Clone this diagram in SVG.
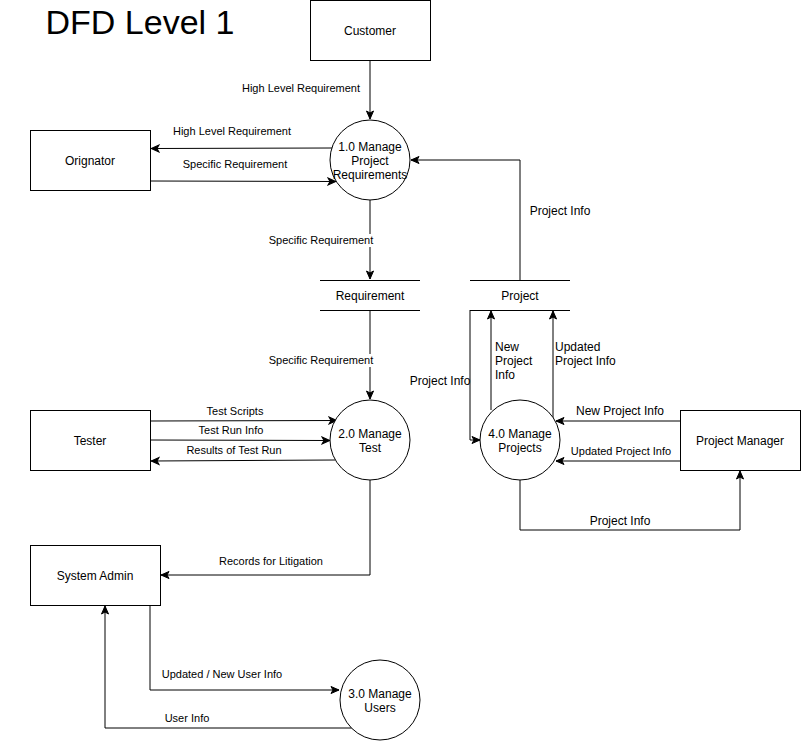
<svg xmlns="http://www.w3.org/2000/svg" width="801" height="741" viewBox="0 0 801 741">
<style>
.box{fill:#fff;stroke:#000;stroke-width:1}
.t{font-family:"Liberation Sans",Arial,sans-serif;font-size:12px;fill:#000;text-anchor:middle}
.s{font-size:11px}
.l{text-anchor:start}
.e{fill:none;stroke:#000;stroke-width:1}
.bg{fill:#fff}
</style>
<defs>
<marker id="a" viewBox="0 0 10 10" refX="9" refY="5" markerWidth="10" markerHeight="10" markerUnits="userSpaceOnUse" orient="auto">
<path d="M1,1.5 L9,5 L1,8.5 L3,5 z" fill="#000" stroke="#000" stroke-width="1"/>
</marker>
</defs>
<rect width="801" height="741" fill="#fff"/>
<text x="140" y="34" font-family="Liberation Sans,Arial,sans-serif" font-size="34" text-anchor="middle">DFD Level 1</text>

<g id="connectors">
<path class="e" d="M370,60 L370,119" marker-end="url(#a)"/>
<path class="e" d="M332,148 L151,148.5" marker-end="url(#a)"/>
<path class="e" d="M151,181 L336,181.5" marker-end="url(#a)"/>
<path class="e" d="M520,280 L520,160 L411,160" marker-end="url(#a)"/>
<path class="e" d="M370,200 L370,279" marker-end="url(#a)"/>
<path class="e" d="M370,310 L370,399" marker-end="url(#a)"/>
<path class="e" d="M150,421 L337,420.5" marker-end="url(#a)"/>
<path class="e" d="M150,440 L330,440.5" marker-end="url(#a)"/>
<path class="e" d="M335,460 L151,461" marker-end="url(#a)"/>
<path class="e" d="M370,480 L370,575 L161,575" marker-end="url(#a)"/>
<path class="e" d="M150,605 L150,690 L339,690" marker-end="url(#a)"/>
<path class="e" d="M353,728 L105,728 L105,606" marker-end="url(#a)"/>
<path class="e" d="M491,410 L491,311" marker-end="url(#a)"/>
<path class="e" d="M553,419 L553,311" marker-end="url(#a)"/>
<path class="e" d="M470,310 L470,440 L480,440" marker-end="url(#a)"/>
<path class="e" d="M680,421 L556,421" marker-end="url(#a)"/>
<path class="e" d="M680,461 L556,461" marker-end="url(#a)"/>
<path class="e" d="M520,480 L520,530 L740,530 L740,471" marker-end="url(#a)"/>

<g id="labels">
<text class="t s" x="301" y="92">High Level Requirement</text>
<text class="t s" x="232" y="135">High Level Requirement</text>
<text class="t s" x="235" y="168">Specific Requirement</text>
<text class="t" x="560" y="215">Project Info</text>
<rect class="bg" x="268" y="234" width="106" height="13"/>
<text class="t s" x="321" y="244">Specific Requirement</text>
<rect class="bg" x="268" y="354" width="106" height="13"/>
<text class="t s" x="321" y="364">Specific Requirement</text>
<text class="t s" x="235" y="415">Test Scripts</text>
<text class="t s" x="231" y="434">Test Run Info</text>
<text class="t s" x="234" y="454">Results of Test Run</text>
<text class="t s" x="271" y="565">Records for Litigation</text>
<text class="t s" x="222" y="678">Updated / New User Info</text>
<text class="t s" x="187" y="722">User Info</text>
<text class="t l" x="495" y="351">New</text>
<text class="t l" x="495" y="365">Project</text>
<text class="t l" x="495" y="379">Info</text>
<text class="t l" x="555" y="351">Updated</text>
<text class="t l" x="555" y="365">Project Info</text>
<text class="t" x="440" y="385">Project Info</text>
<text class="t" x="620" y="415">New Project Info</text>
<text class="t s" x="621" y="455">Updated Project Info</text>
<text class="t" x="620" y="525">Project Info</text>
</g>
</g>

<g id="customer"><rect class="box" x="310.5" y="0.5" width="120" height="60"/><text class="t" x="370" y="35">Customer</text></g>
<g id="orignator"><rect class="box" x="30.5" y="130.5" width="120" height="60"/><text class="t" x="90" y="165">Orignator</text></g>
<g id="tester"><rect class="box" x="30.5" y="410.5" width="120" height="60"/><text class="t" x="90" y="445">Tester</text></g>
<g id="project-manager"><rect class="box" x="680.5" y="410.5" width="120" height="60"/><text class="t" x="740" y="445">Project Manager</text></g>
<g id="system-admin"><rect class="box" x="30.5" y="545.5" width="130" height="60"/><text class="t" x="95" y="580">System Admin</text></g>

<g id="p1"><circle class="box" cx="370" cy="160" r="40"/><text class="t" x="370" y="151">1.0 Manage</text><text class="t" x="370" y="165">Project</text><text class="t" x="370" y="179">Requirements</text></g>
<g id="p2"><circle class="box" cx="370" cy="440" r="40"/><text class="t" x="370" y="438">2.0 Manage</text><text class="t" x="370" y="452">Test</text></g>
<g id="p3"><circle class="box" cx="380" cy="700" r="40"/><text class="t" x="380" y="698">3.0 Manage</text><text class="t" x="380" y="712">Users</text></g>
<g id="p4"><circle class="box" cx="520" cy="440" r="40"/><text class="t" x="520" y="438">4.0 Manage</text><text class="t" x="520" y="452">Projects</text></g>

<g id="store-requirement"><path class="e" d="M320,280.5 L420,280.5 M320,310.5 L420,310.5"/><text class="t" x="370" y="300">Requirement</text></g>
<g id="store-project"><path class="e" d="M470,280.5 L570,280.5 M470,310.5 L570,310.5"/><text class="t" x="520" y="300">Project</text></g>
</svg>
